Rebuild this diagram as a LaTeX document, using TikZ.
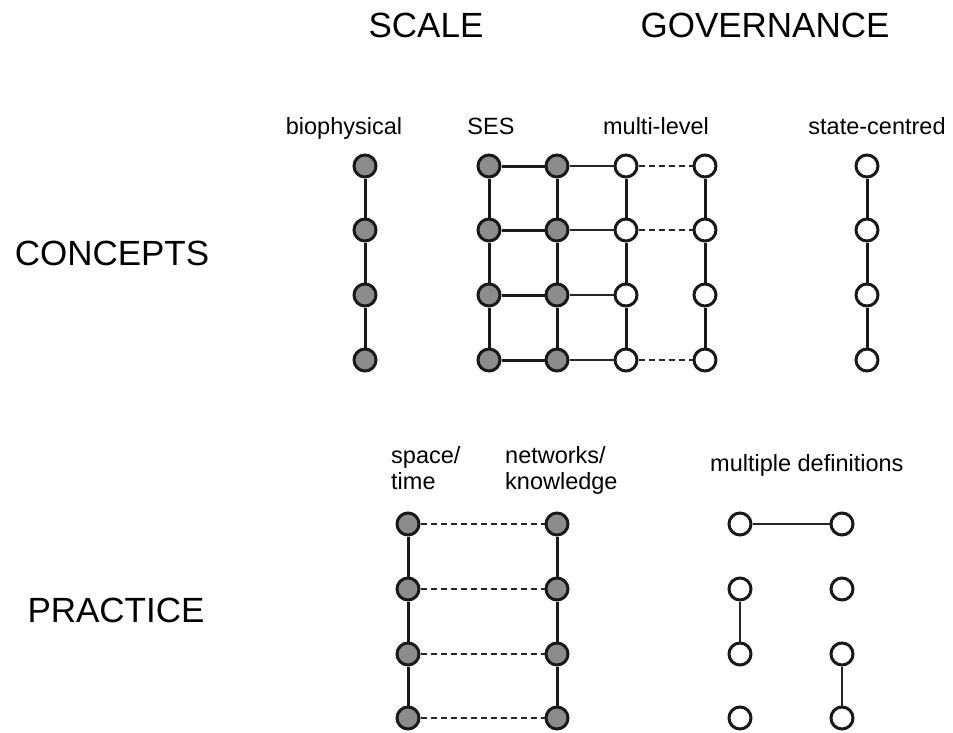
\documentclass[tikz,border=0pt]{standalone}
\usepackage{fontspec}
\setmainfont{Liberation Sans}
\begin{document}
\begin{tikzpicture}[x=1pt,y=-1pt,
  gnode/.style={circle,draw=black!90,fill=black!45,line width=3pt,minimum size=22pt,inner sep=0pt},
  wnode/.style={circle,draw=black!90,fill=white,line width=3pt,minimum size=22pt,inner sep=0pt},
  thick line/.style={draw=black!90,line width=3pt},
  thin line/.style={draw=black!85,line width=1.7pt},
  dash line/.style={draw=black!85,line width=2pt,dash pattern=on 6pt off 4pt},
  big/.style={font=\fontsize{35}{42}\selectfont,inner sep=0pt,anchor=base},
  small/.style={font=\fontsize{23.5}{26}\selectfont,inner sep=0pt,anchor=base},
]
\useasboundingbox (0,0) rectangle (953,733);

% headings
\node[big] (scale) at (426,38) {SCALE};
\node[big] (gov) at (765,38) {GOVERNANCE};
\node[big] (concepts) at (112,265) {CONCEPTS};
\node[big] (practice) at (116,622) {PRACTICE};

% top labels
\node[small] (lbio) at (344,135) {biophysical};
\node[small] (lses) at (491,135) {SES};
\node[small] (lml) at (656,135) {multi-level};
\node[small] (lsc) at (877,135) {state-centred};

% bottom labels
\node[small,anchor=base west,align=left] (lst) at (391,489) {space/\\time};
\node[small,anchor=base west,align=left] (lnk) at (505,489) {networks/\\knowledge};
\node[small,anchor=base west] (lmd) at (710,471) {multiple definitions};

% top nodes
\foreach \r/\y in {1/166,2/230,3/295,4/360}{
  \node[gnode] (b\r) at (365,\y) {};
  \node[gnode] (sa\r) at (489,\y) {};
  \node[gnode] (sb\r) at (557,\y) {};
  \node[wnode] (ma\r) at (626,\y) {};
  \node[wnode] (mb\r) at (705,\y) {};
  \node[wnode] (c\r) at (867,\y) {};
}
% bottom nodes
\foreach \r/\y in {1/524,2/589,3/654,4/718}{
  \node[gnode] (pa\r) at (408,\y) {};
  \node[gnode] (pb\r) at (557,\y) {};
  \node[wnode] (da\r) at (740,\y) {};
  \node[wnode] (db\r) at (842,\y) {};
}

% vertical connectors
\foreach \a/\b in {1/2,2/3,3/4}{
  \draw[thick line] (b\a) -- (b\b);
  \draw[thick line] (sa\a) -- (sa\b);
  \draw[thick line] (sb\a) -- (sb\b);
  \draw[thick line] (ma\a) -- (ma\b);
  \draw[thick line] (mb\a) -- (mb\b);
  \draw[thick line] (c\a) -- (c\b);
  \draw[thick line] (pa\a) -- (pa\b);
  \draw[thick line] (pb\a) -- (pb\b);
}
% horizontal connectors
\foreach \r in {1,2,3,4}{
  \draw[thick line] (sa\r) -- (sb\r);
  \draw[thin line] (sb\r) -- (ma\r);
  \draw[dash line] (pa\r) -- (pb\r);
}
\foreach \r in {1,2,4}{
  \draw[dash line] (ma\r) -- (mb\r);
}
% multiple definitions
\draw[thin line] (da1) -- (db1);
\draw[thin line] (da2) -- (da3);
\draw[thin line] (db3) -- (db4);
\end{tikzpicture}
\end{document}
